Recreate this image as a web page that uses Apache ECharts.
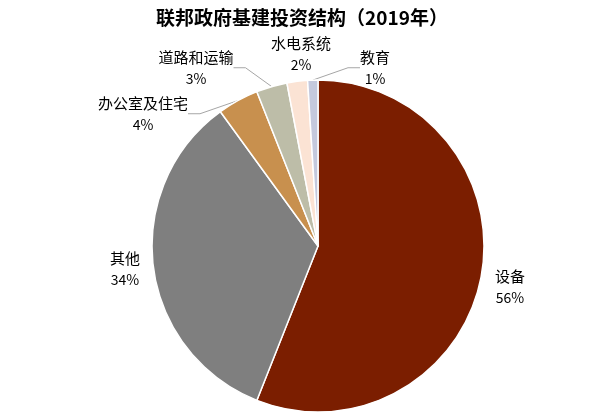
<!DOCTYPE html>
<html>
<head>
<meta charset="utf-8">
<script src="https://cdn.jsdelivr.net/npm/echarts@6/dist/echarts.min.js"></script>
<style>
  html, body { margin: 0; padding: 0; background: #fff; }
  #chart { width: 608px; height: 416px; }
</style>
</head>
<body>
<div id="chart"></div>
<script>
// 联邦政府基建投资结构（2019年），单位：%
const categories = ['设备', '其他', '办公室及住宅', '道路和运输', '水电系统', '教育'];
const shares = [56, 34, 4, 3, 2, 1];
const colors = ['#7b1e00', '#7f7f7f', '#c8904e', '#bdbda8', '#fbe3d4', '#c4c9dd'];
// 哪些标签画引导线
const showLine = [false, false, true, true, false, true];

// 标签中心位置（像素），照原图摆放
const labelPos = [[510, 287], [125, 269], [143, 114], [196, 68], [301, 54], [375, 68]];

const chart = echarts.init(document.getElementById('chart'), null, { renderer: 'canvas' });

chart.setOption({
  animation: false,
  backgroundColor: '#fff',
  title: {
    text: '联邦政府基建投资结构（2019年）',
    left: 297,
    top: 3,
    textAlign: 'center',
    textStyle: {
      fontFamily: 'Noto Sans CJK SC',
      fontSize: 19,
      fontWeight: 'bold',
      color: '#000'
    }
  },
  series: [{
    type: 'pie',
    center: [318, 246],
    radius: 166,
    startAngle: 90,
    clockwise: true,
    itemStyle: { borderColor: '#fff', borderWidth: 1.5 },
    label: {
      show: true,
      position: 'outside',
      formatter: '{n|{b}}\n{p|{d}%}',
      color: '#000',
      rich: {
        n: { fontFamily: 'Noto Sans CJK SC', fontSize: 15, lineHeight: 22, color: '#000' },
        p: { fontFamily: 'Noto Sans CJK SC', fontSize: 14, lineHeight: 22, color: '#000' }
      }
    },
    labelLine: {
      show: true,
      length: 14,
      length2: 12,
      lineStyle: { color: '#a6a6a6', width: 1 }
    },
    labelLayout: function (p) {
      const pos = labelPos[p.dataIndex];
      return { x: pos[0], y: pos[1], align: 'center', verticalAlign: 'middle' };
    },
    data: categories.map((name, i) => ({
      name: name,
      value: shares[i],
      itemStyle: { color: colors[i] },
      labelLine: { show: showLine[i] }
    }))
  }]
});
</script>
</body>
</html>
